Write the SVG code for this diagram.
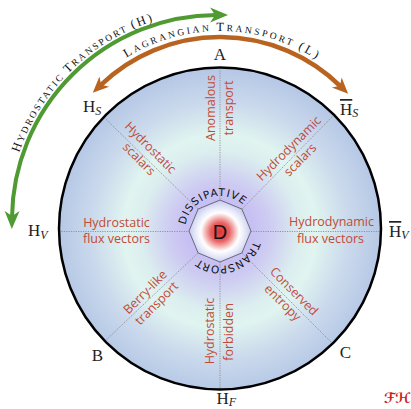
<svg xmlns="http://www.w3.org/2000/svg" width="411" height="409" viewBox="0 0 411 409">
<style>
.red{font-family:"Open Sans","Liberation Sans",sans-serif;font-size:12.5px;fill:#c24a36;text-anchor:middle}
.lbl{font-family:"Liberation Serif",serif;font-size:17px;fill:#222}
.sub{font-style:italic;font-size:12px}
.spoke{stroke:#8c8c8c;stroke-width:0.9;stroke-dasharray:1.2 1.2;fill:none}
.ring{font-family:"DejaVu Sans",sans-serif;font-size:10.5px;fill:#111;letter-spacing:0.6px}
.sc{font-family:"Liberation Serif",serif;font-size:9.5px;fill:#111;letter-spacing:2px}
.big{font-size:12.5px}
</style>
<defs>
<radialGradient id="bg" gradientUnits="userSpaceOnUse" cx="220" cy="231" r="161">
<stop offset="0" stop-color="#c0b8f5"/>
<stop offset="0.2" stop-color="#c6c0f3"/>
<stop offset="0.3" stop-color="#cdcaf2"/>
<stop offset="0.5" stop-color="#dcefef"/>
<stop offset="0.6" stop-color="#e0f4f0"/>
<stop offset="0.8" stop-color="#cad9ec"/>
<stop offset="1" stop-color="#b6c8e6"/>
</radialGradient>
<radialGradient id="core" gradientUnits="userSpaceOnUse" cx="220" cy="232" r="31">
<stop offset="0" stop-color="#e03535"/>
<stop offset="0.3" stop-color="#e86060"/>
<stop offset="0.5" stop-color="#f6c4c4"/>
<stop offset="0.62" stop-color="#ffffff"/>
<stop offset="0.8" stop-color="#e6e8f8"/>
<stop offset="1" stop-color="#c6caef"/>
</radialGradient>
<marker id="ahG" markerUnits="userSpaceOnUse" viewBox="0 -8 18 16" markerWidth="18" markerHeight="16" refX="6" refY="0" orient="auto-start-reverse">
<path d="M0,-7.5 L18,0 L0,7.5 L5,0 Z" fill="#4f9a33"/>
</marker>
<marker id="ahO" markerUnits="userSpaceOnUse" viewBox="0 -8 17 16" markerWidth="17" markerHeight="16" refX="5" refY="0" orient="auto-start-reverse">
<path d="M0,-7 L16,0 L0,7 L4.5,0 Z" fill="#b86420"/>
</marker>
<path id="gtext" d="M8,220 A209,209 0 0 1 426,220"/>
<path id="otext" d="M42,209 A178,178 0 0 1 398,209"/>
<path id="ctext" d="M185,231 A35,35 0 1 1 255,231 A35,35 0 1 1 185,231"/>
</defs>
<rect width="411" height="409" fill="#ffffff"/>

<g id="main-circle">
<circle cx="220" cy="228.5" r="161" fill="url(#bg)"/>
</g>

<g id="connectors">
<line class="spoke" x1="220" y1="68" x2="220" y2="200"/>
<line class="spoke" x1="220" y1="262" x2="220" y2="389.5"/>
<line class="spoke" x1="59" y1="231.5" x2="189" y2="231.5"/>
<line class="spoke" x1="251" y1="231.5" x2="381" y2="231.5"/>
<line class="spoke" x1="198.1" y1="209.1" x2="104" y2="117.4"/>
<line class="spoke" x1="241.9" y1="209.1" x2="333.8" y2="115.1"/>
<line class="spoke" x1="198.1" y1="252.9" x2="104.7" y2="341.3"/>
<line class="spoke" x1="241.9" y1="252.9" x2="332.8" y2="343.8"/>
<path d="M12,217 A205,205 0 0 1 216.1,15" fill="none" stroke="#4f9a33" stroke-width="4" marker-start="url(#ahG)" marker-end="url(#ahG)"/>
<path d="M100.7,85.1 A172,172 0 0 1 340.3,86.1" fill="none" stroke="#b86420" stroke-width="4.5" marker-start="url(#ahO)" marker-end="url(#ahO)"/>
</g>

<g id="circle-outline">
<circle cx="220" cy="228.5" r="161" fill="none" stroke="#000" stroke-width="2.5"/>
</g>

<g id="arc-labels">
<text class="sc"><textPath href="#gtext" startOffset="166.5" text-anchor="middle"><tspan class="big">H</tspan>YDROSTATIC <tspan class="big">T</tspan>RANSPORT <tspan class="big">(H)</tspan></textPath></text>
<text class="sc" style="letter-spacing:2.5px"><textPath href="#otext" startOffset="282" text-anchor="middle"><tspan class="big">L</tspan>AGRANGIAN <tspan class="big">T</tspan>RANSPORT <tspan class="big">(L)</tspan></textPath></text>
</g>

<g id="core-node">
<polygon points="220,200 241.92,209.08 251,231 241.92,252.92 220,262 198.08,252.92 189,231 198.08,209.08" fill="url(#core)" stroke="#6a6a7a" stroke-width="1"/>
<text x="220" y="238.5" text-anchor="middle" font-family="Liberation Sans,sans-serif" font-size="20" fill="#111">D</text>
<text class="ring" style="letter-spacing:1.1px"><textPath href="#ctext" startOffset="43.5" text-anchor="middle">DISSIPATIVE</textPath></text>
<text class="ring"><textPath href="#ctext" startOffset="154" text-anchor="middle">TRANSPORT</textPath></text>
</g>

<g id="sector-A">
<text class="red" x="215" y="108" transform="rotate(-90 215 108)">Anomalous</text>
<text class="red" x="233" y="108" transform="rotate(-90 233 108)">transport</text>
</g>
<g id="sector-HF">
<text class="red" x="214" y="331" transform="rotate(-90 214 331)">Hydrostatic</text>
<text class="red" x="233" y="332" transform="rotate(-90 233 332)">forbidden</text>
</g>
<g id="sector-HV">
<text class="red" x="116.5" y="226.5">Hydrostatic</text>
<text class="red" x="116.5" y="242.5">flux vectors</text>
</g>
<g id="sector-HVbar">
<text class="red" x="331.5" y="226">Hydrodynamic</text>
<text class="red" x="330.5" y="243">flux vectors</text>
</g>
<g id="sector-HS" transform="translate(143.6,154.6) rotate(45)">
<text class="red" x="0" y="-5.5">Hydrostatic</text>
<text class="red" x="0" y="10.5">scalars</text>
</g>
<g id="sector-HSbar" transform="translate(295.7,155.3) rotate(-45)">
<text class="red" x="0" y="-5.5">Hydrodynamic</text>
<text class="red" x="0" y="10.5">scalars</text>
</g>
<g id="sector-B" transform="translate(152.1,298.9) rotate(-45)">
<text class="red" x="0" y="-5.5">Berry-like</text>
<text class="red" x="0" y="10.5">transport</text>
</g>
<g id="sector-C" transform="translate(287.2,298.2) rotate(45)">
<text class="red" x="0" y="-5.5">Conserved</text>
<text class="red" x="0" y="10.5">entropy</text>
</g>

<g id="point-labels">
<text class="lbl" x="220" y="60" text-anchor="middle">A</text>
<text class="lbl" x="83" y="112">H<tspan class="sub" dy="3">S</tspan></text>
<text class="lbl" x="340" y="115"><tspan text-decoration="overline">H</tspan><tspan class="sub" dy="2">S</tspan></text>
<text class="lbl" x="28" y="236">H<tspan class="sub" dy="3">V</tspan></text>
<text class="lbl" x="389" y="237"><tspan text-decoration="overline">H</tspan><tspan class="sub" dy="2">V</tspan></text>
<text class="lbl" x="97.5" y="361" text-anchor="middle">B</text>
<text class="lbl" x="345.5" y="358" text-anchor="middle">C</text>
<text class="lbl" x="216.5" y="403.5">H<tspan class="sub" dy="2">F</tspan></text>
</g>

<g id="signature">
<text x="384" y="403" font-family="DejaVu Serif,DejaVu Sans,serif" font-style="italic" font-weight="bold" font-size="14" fill="#cc2020">ℱℋ</text>
</g>
</svg>
